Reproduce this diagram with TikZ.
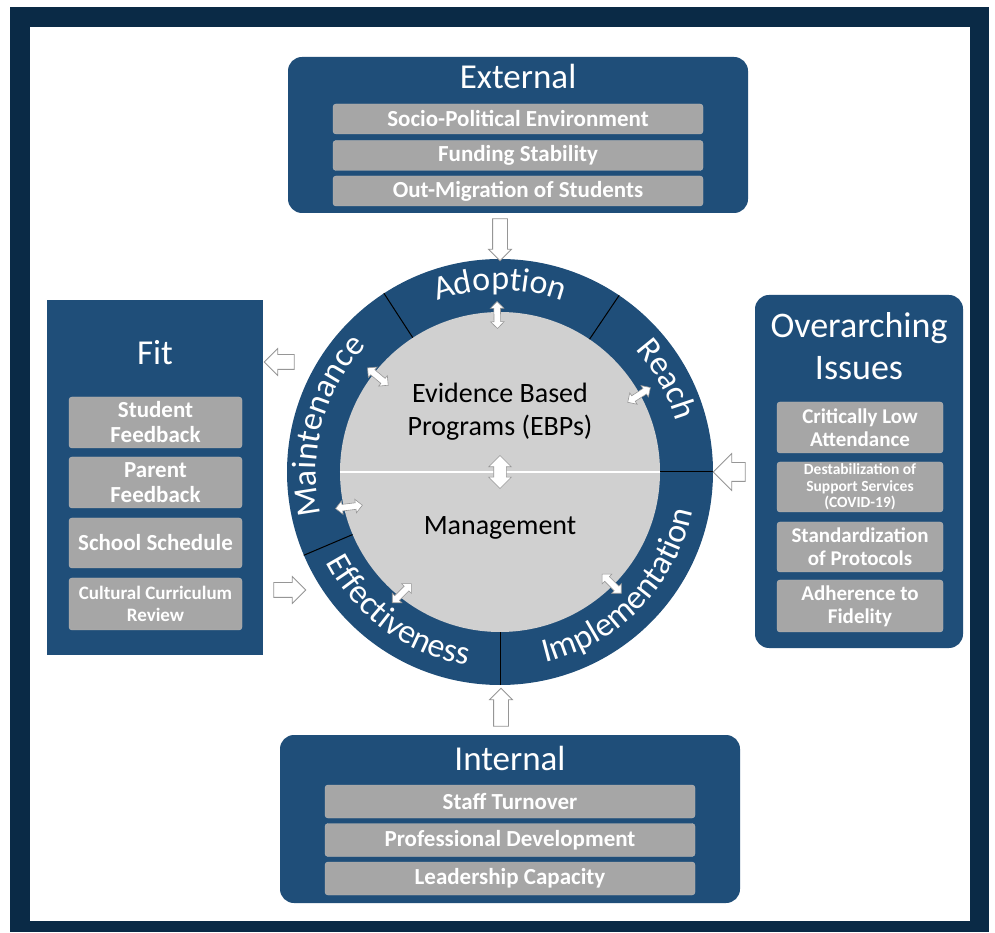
\documentclass[tikz,border=0pt]{standalone}
\usepackage{fontspec}
\setmainfont{Carlito}
\usetikzlibrary{shapes.arrows,decorations.text}
\definecolor{framenavy}{RGB}{10,42,70}
\definecolor{boxblue}{RGB}{31,78,121}
\definecolor{itemgray}{RGB}{166,166,166}
\definecolor{coregray}{RGB}{208,208,208}
\definecolor{arrowedge}{RGB}{150,150,150}

\newcommand{\headfont}{\fontsize{35}{42}\selectfont}
\newcommand{\itemfont}{\fontsize{23}{25}\selectfont\bfseries}
\newcommand{\ringfont}{\fontsize{34}{40}\selectfont}

\begin{document}
\begin{tikzpicture}[x=1pt, y=1pt,
    ringlabel/.style={decorate, decoration={text along path,
        text={|\ringfont|#1}, text align=center, text color=white}}]
            \tikzstyle{bluebox} = [fill=boxblue, inner sep=0pt]
            \tikzstyle{heading} = [text=white, font=\headfont, align=center]
            \tikzstyle{item} = [fill=itemgray, draw=itemgray!80!white, rounded corners=3pt,
                text=white, font=\itemfont, align=center, inner sep=0pt]
            \tikzstyle{blockarrow} = [single arrow, draw=arrowedge, fill=white, line width=0.8pt,
                inner xsep=0pt, text width=0pt]
            \tikzstyle{linkarrow} = [double arrow, draw=arrowedge, fill=white, line width=0.6pt,
                inner xsep=0pt, inner ysep=3pt, text width=0pt, minimum height=27pt,
                double arrow head extend=3.5pt]

            % frame
            \useasboundingbox (0,0) rectangle (995,932);
            \fill[framenavy] (10,0) rectangle (989,925);
            \fill[white] (30,11) rectangle (970,905);

            % wheel
            \node[circle, fill=boxblue, minimum size=426pt, inner sep=0pt] (ring) at (500,460) {};
            \node[circle, fill=coregray, minimum size=320pt, inner sep=0pt] (core) at (500,460) {};
            \draw[white, line width=2pt] (core.west) -- (core.east);
            \foreach \a in {0,56,123.5,203.5,270}
                \draw[black, line width=1pt] (core.\a) -- (ring.\a);

            \path[ringlabel=Adoption] (ring.center) ++(150:182) arc[start angle=150, end angle=30, radius=182];
            \path[ringlabel=Reach] (ring.center) ++(89:183) arc[start angle=89, end angle=-31, radius=183];
            \path[ringlabel=Maintenance] (ring.center) ++(225:184) arc[start angle=225, end angle=105, radius=184];
            \path[ringlabel=Effectiveness] (ring.center) ++(174:196) arc[start angle=174, end angle=294, radius=196];
            \path[ringlabel=Implementation] (ring.center) ++(256:196) arc[start angle=256, end angle=376, radius=196];

            \node[font=\fontsize{28}{33}\selectfont, align=center] (ebp) at (500,520) {Evidence Based\\Programs (EBPs)};
            \node[font=\fontsize{28}{33}\selectfont, anchor=base] (mgmt) at (500,397) {Management};
            \node[linkarrow, rotate=90, minimum height=33pt, inner ysep=6pt, double arrow head extend=5pt] (corelink) at (core.center) {};

            \path (core.center) ++(91:157) node[linkarrow, rotate=91] (linkadopt) {};
            \path (core.center) ++(29:159) node[linkarrow, rotate=33] (linkreach) {};
            \path (core.center) ++(142:155) node[linkarrow, rotate=140] (linkmaint) {};
            \path (core.center) ++(193:155) node[linkarrow, rotate=187] (linkmgmt) {};
            \path (core.center) ++(231:156) node[linkarrow, rotate=225] (linkeffect) {};
            \path (core.center) ++(315:158) node[linkarrow, rotate=315] (linkimpl) {};

            % external
            \node[bluebox, rounded corners=14pt, minimum width=460pt, minimum height=156pt] (external) at (518,797) {};
            \node[heading, anchor=base] (externaltitle) at (518,843) {External};
            \node[item, minimum width=370pt, minimum height=30pt] (socio) at (518,813) {Socio-Political Environment};
            \node[item, minimum width=370pt, minimum height=30pt] (funding) at (518,776.5) {Funding Stability};
            \node[item, minimum width=370pt, minimum height=30pt] (migration) at (518,741) {Out-Migration of Students};

            % internal
            \node[bluebox, rounded corners=14pt, minimum width=460pt, minimum height=168pt] (internal) at (510,113) {};
            \node[heading, anchor=base] (internaltitle) at (510,162) {Internal};
            \node[item, minimum width=370pt, minimum height=33pt] (turnover) at (510,130.5) {Staff Turnover};
            \node[item, minimum width=370pt, minimum height=33pt] (profdev) at (510,92) {Professional Development};
            \node[item, minimum width=370pt, minimum height=33pt] (leadership) at (510,53.5) {Leadership Capacity};

            % fit
            \node[bluebox, minimum width=216pt, minimum height=355pt] (fit) at (155,454.5) {};
            \node[heading, anchor=base] (fittitle) at (155,567) {Fit};
            \node[item, minimum width=173pt, minimum height=51pt] (student) at (155.5,509.5) {Student\\Feedback};
            \node[item, minimum width=173pt, minimum height=51pt] (parent) at (155.5,449.5) {Parent\\Feedback};
            \node[item, minimum width=173pt, minimum height=50pt] (schedule) at (155.5,389) {School Schedule};
            \node[item, minimum width=173pt, minimum height=52pt, font=\fontsize{19}{22}\selectfont\bfseries] (curriculum) at (155.5,328) {Cultural Curriculum\\Review};

            % overarching issues
            \node[bluebox, rounded corners=14pt, minimum width=208pt, minimum height=353pt] (overarching) at (859,460.5) {};
            \node[heading, font=\fontsize{36}{42}\selectfont] (overtitle) at (859,586) {Overarching\\Issues};
            \node[item, minimum width=166pt, minimum height=51pt, font=\fontsize{21}{23}\selectfont\bfseries] (attendance) at (860,504.5) {Critically Low\\Attendance};
            \node[item, minimum width=166pt, minimum height=50pt, font=\fontsize{15.5}{16.5}\selectfont\bfseries] (support) at (860,445) {Destabilization of\\Support Services\\(COVID-19)};
            \node[item, minimum width=166pt, minimum height=50pt, font=\fontsize{21}{23}\selectfont\bfseries] (protocols) at (860,385) {Standardization\\of Protocols};
            \node[item, minimum width=166pt, minimum height=52pt, font=\fontsize{21}{23}\selectfont\bfseries] (fidelity) at (860,326) {Adherence to\\Fidelity};

            % block arrows
            \node[blockarrow, rotate=-90, minimum height=42pt, inner ysep=7pt, single arrow head extend=4pt] (extarrow) at (500,696) {};
            \node[blockarrow, rotate=90, minimum height=38pt, inner ysep=7pt, single arrow head extend=4pt] (intarrow) at (501,221) {};
            \node[blockarrow, rotate=180, minimum height=32pt, inner ysep=9pt, single arrow head extend=9pt] (overarrow) at (734,460) {};
            \node[blockarrow, rotate=180, minimum height=30pt, inner ysep=7pt, single arrow head extend=6pt] (fitout) at (283,570) {};
            \node[blockarrow, minimum height=32pt, inner ysep=7pt, single arrow head extend=6pt] (fitin) at (286,342) {};
        \end{tikzpicture}
\end{document}
